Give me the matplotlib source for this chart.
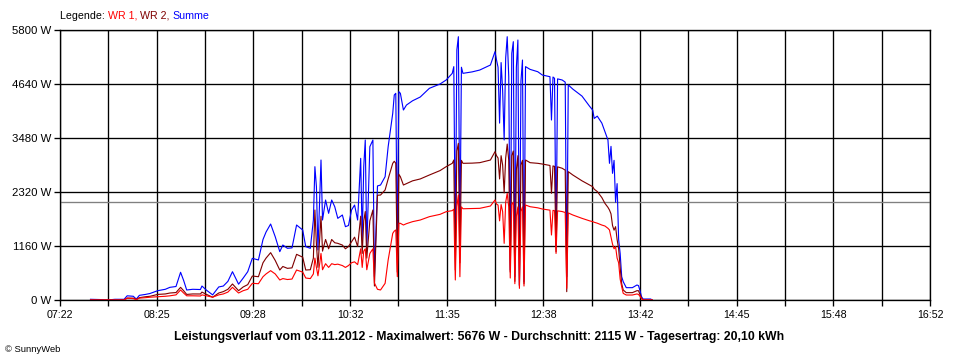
import matplotlib
matplotlib.use("Agg")
import matplotlib.pyplot as plt
import numpy as np

# ---- data ----
times = ["07:42", "07:48", "07:53", "07:58", "08:04", "08:06", "08:10", "08:12", "08:14", "08:18",
         "08:21", "08:26", "08:31", "08:34", "08:38", "08:41", "08:43", "08:45", "08:49", "08:54",
         "08:55", "08:58", "09:02", "09:06", "09:09", "09:12", "09:15", "09:19", "09:22", "09:25",
         "09:28", "09:32", "09:35", "09:37", "09:40", "09:43", "09:46", "09:48", "09:51", "09:54",
         "09:57", "10:01", "10:03", "10:06", "10:08", "10:09", "10:10", "10:11", "10:12", "10:13",
         "10:14", "10:16", "10:18", "10:20", "10:22", "10:24", "10:27", "10:29", "10:31", "10:33",
         "10:35", "10:37", "10:39", "10:40", "10:41", "10:42", "10:43", "10:45", "10:47", "10:48",
         "10:50", "10:52", "10:55", "10:57", "11:00", "11:01", "11:02", "11:03", "11:04", "11:05",
         "11:07", "11:09", "11:13", "11:18", "11:24", "11:31", "11:35", "11:39", "11:40", "11:41",
         "11:42", "11:43", "11:44", "11:45", "11:46", "11:52", "11:57", "12:04", "12:07", "12:08",
         "12:09", "12:10", "12:11", "12:12", "12:13", "12:14", "12:15", "12:16", "12:17", "12:18",
         "12:19", "12:20", "12:21", "12:22", "12:23", "12:24", "12:25", "12:26", "12:27", "12:30",
         "12:35", "12:38", "12:43", "12:44", "12:45", "12:46", "12:47", "12:48", "12:51", "12:53",
         "12:54", "12:55", "12:58", "13:04", "13:09", "13:11", "13:12", "13:14", "13:17", "13:19",
         "13:21", "13:22", "13:23", "13:24", "13:25", "13:26", "13:27", "13:28", "13:29", "13:30",
         "13:31", "13:33", "13:37", "13:40", "13:41", "13:42", "13:43", "13:44", "13:49", "13:50"]

wr1 = [0, 0, 0, 0, 0, 40, 30, 10, 40, 50,
       60, 70, 80, 90, 110, 215, 150, 90, 90, 86,
       110, 90, 60, 110, 130, 170, 272, 150, 200, 230,
       358, 350, 500, 560, 630, 560, 430, 460, 440, 450,
       644, 600, 472, 460, 560, 900, 700, 520, 750, 1000,
       650, 780, 700, 780, 760, 770, 740, 700, 740, 800,
       820, 760, 1100, 700, 1050, 1100, 650, 1000, 1100, 365,
       230, 215, 358, 860, 1432, 1480, 1504, 501, 1650, 1647,
       1611, 1640, 1683, 1718, 1790, 1840, 1897, 1920, 1950, 430,
       2004, 2255, 500, 2000, 1960, 1965, 1969, 2019, 2148, 2060,
       2040, 1700, 2050, 1900, 1217, 2100, 2292, 2000, 472, 2050,
       2100, 350, 1800, 2000, 250, 1900, 2000, 300, 2040, 2004,
       1980, 1955, 1930, 1396, 1925, 1919, 1000, 1915, 1900, 1880,
       250, 1870, 1826, 1754, 1700, 1683, 1670, 1650, 1610, 1590,
       1540, 1504, 1350, 1200, 1100, 1146, 900, 800, 450, 286,
       143, 107, 107, 130, 120, 80, 30, 0, 0, 0]

wr2 = [0, 0, 0, 0, 0, 40, 40, 10, 50, 70,
       80, 120, 130, 150, 160, 272, 200, 120, 130, 129,
       170, 120, 60, 150, 180, 230, 344, 200, 280, 330,
       515, 500, 800, 900, 1017, 850, 644, 720, 680, 690,
       981, 920, 644, 650, 900, 1933, 1200, 700, 1250, 1800,
       1050, 1300, 1100, 1300, 1230, 1217, 1180, 1100, 1150, 1250,
       1350, 1150, 1800, 1000, 1700, 1900, 900, 1700, 1933, 300,
       2250, 2255, 2363, 2600, 2936, 2980, 2936, 600, 2700, 2649,
       2470, 2500, 2560, 2600, 2685, 2780, 2864, 2936, 3007, 644,
       3200, 3365, 800, 3000, 2936, 2940, 2950, 3007, 3186, 3100,
       3050, 2600, 3100, 2900, 2300, 3050, 3350, 3000, 600, 3100,
       3200, 400, 2800, 3100, 300, 2900, 3000, 350, 3007, 2950,
       2936, 2921, 2890, 2292, 2880, 2870, 1038, 2860, 2830, 2790,
       179, 2757, 2685, 2560, 2470, 2434, 2380, 2330, 2200, 2077,
       1990, 1933, 1850, 1600, 1500, 1575, 1300, 1100, 700, 350,
       215, 158, 158, 200, 200, 120, 40, 0, 0, 0]

summe = [15, 10, 0, 15, 15, 90, 80, 20, 100, 120,
         140, 200, 230, 272, 290, 595, 420, 215, 230, 225,
         300, 210, 110, 280, 300, 400, 608, 340, 470, 608,
         895, 860, 1300, 1460, 1632, 1360, 1038, 1181, 1110, 1120,
         1611, 1504, 1146, 1110, 1718, 2864, 2434, 1074, 2077, 3007,
         1718, 2148, 1862, 2148, 2004, 1754, 1826, 1575, 1600, 1933,
         2040, 1718, 3043, 1300, 2864, 3437, 1100, 3293, 3437, 501,
         2450, 2470, 2649, 3293, 4010, 4403, 4440, 1100, 4475, 4440,
         4081, 4188, 4280, 4360, 4547, 4640, 4726, 4869, 5013, 1146,
         5370, 5656, 1300, 5000, 4869, 4900, 4940, 5048, 5334, 5155,
         5000, 3800, 5100, 4500, 3437, 5200, 5656, 4800, 644, 5300,
         5549, 501, 5000, 5585, 322, 4700, 5155, 394, 5013, 4954,
         4904, 4833, 4797, 3866, 4790, 4762, 1150, 4750, 4726, 4680,
         501, 4620, 4530, 4380, 4160, 4080, 3900, 3950, 3800, 3620,
         3437, 2936, 3300, 2721, 3000, 2100, 2500, 1300, 1000, 501,
         394, 265, 265, 322, 310, 200, 72, 21, 21, 0]

x_tick_labels = ["07:22", "08:25", "09:28", "10:32", "11:35", "12:38", "13:42", "14:45", "15:48", "16:52"]
y_ticks = [0, 1160, 2320, 3480, 4640, 5800]
y_tick_labels = ["0 W", "1160 W", "2320 W", "3480 W", "4640 W", "5800 W"]
average = 2115
series_names = ["WR 1,", "WR 2,", "Summe"]
title = ("Leistungsverlauf vom 03.11.2012 - Maximalwert: 5676 W - "
         "Durchschnitt: 2115 W - Tagesertrag: 20,10 kWh")
copyright_text = "\u00a9 SunnyWeb"


def to_min(s):
    h, m = s.split(":")
    return int(h) * 60 + int(m)


t = np.array([to_min(s) for s in times])
x_start, x_end = to_min(x_tick_labels[0]), to_min(x_tick_labels[-1])

plt.rcParams['font.family'] = ['Liberation Sans', 'DejaVu Sans']

W, H = 960, 360
fig = plt.figure(figsize=(W / 96, H / 96), dpi=96)
fig.patch.set_facecolor('white')
ax = fig.add_axes([60 / W, 60 / H, 870 / W, 270 / H])

c_sum, c_wr2, c_wr1 = '#0000ff', '#800000', '#ff0000'
lw = 0.85
ax.plot(t, summe, color=c_sum, lw=lw, zorder=2)
ax.plot(t, wr2, color=c_wr2, lw=lw, zorder=3)
ax.plot(t, wr1, color=c_wr1, lw=lw, zorder=4)
ax.axhline(average, color='#808080', lw=1.0, zorder=1.5)

ax.set_xlim(x_start, x_end)
ax.set_ylim(y_ticks[0], y_ticks[-1])
major = np.linspace(x_start, x_end, len(x_tick_labels))
minor = (major[:-1] + major[1:]) / 2
ax.set_xticks(major)
ax.set_xticklabels(x_tick_labels)
ax.set_xticks(minor, minor=True)
ax.set_yticks(y_ticks)
ax.set_yticklabels(y_tick_labels)
ax.grid(True, which='both', axis='x', color='black', lw=1.0)
ax.grid(True, which='major', axis='y', color='black', lw=1.0)
ax.set_axisbelow(True)
for sp in ax.spines.values():
    sp.set_color('black')
    sp.set_linewidth(1.0)
ax.tick_params(which='both', length=4.5, width=1, color='black', direction='out', labelsize=8)
ax.tick_params(axis='x', which='both', pad=3)
ax.tick_params(axis='y', labelsize=8.5, pad=2)

# legend line on top
renderer = fig.canvas.get_renderer()
x_px = 60
y_fig = 1 - 16 / H
pieces = [("Legende: ", 'black'), (series_names[0] + " ", c_wr1),
          (series_names[1] + " ", c_wr2), (series_names[2], c_sum)]
for txt, col in pieces:
    tt = fig.text(x_px / W, y_fig, txt, color=col, fontsize=8, ha='left', va='center')
    bb = tt.get_window_extent(renderer=renderer)
    x_px += bb.width

fig.text(479 / W, 1 - 337 / H, title, ha='center', va='center', fontsize=9.2, fontweight='bold')
fig.text(5 / W, 1 - 349 / H, copyright_text, ha='left', va='center', fontsize=7)

fig.savefig("out.png", dpi=96)
